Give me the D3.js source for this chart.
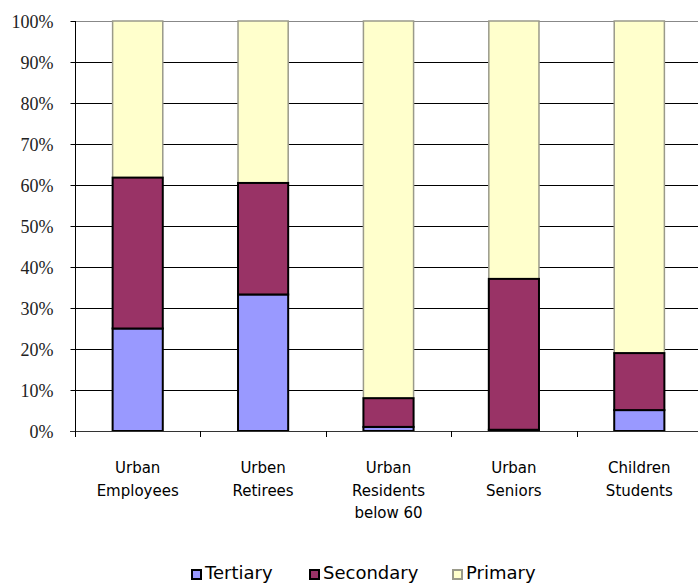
<!DOCTYPE html>
<html><head><meta charset="utf-8">
<script src="https://cdn.jsdelivr.net/npm/d3@7"></script>
<style>
html,body{margin:0;padding:0;background:#fff;}
svg{display:block;}
</style></head>
<body>
<svg id="chart" width="698" height="584"></svg>
<script>
const categories = [["Urban","Employees"],["Urben","Retirees"],["Urban","Residents","below 60"],["Urban","Seniors"],["Children","Students"]];
const seriesNames = ["Tertiary","Secondary","Primary"];
const tertiary  = [0.250, 0.333, 0.010, 0.003, 0.051];
const secondary = [0.368, 0.272, 0.070, 0.368, 0.139];
const primary   = [0.382, 0.395, 0.920, 0.629, 0.810];
const yTicks = [0,0.1,0.2,0.3,0.4,0.5,0.6,0.7,0.8,0.9,1.0];
const colors = ["#9999FF","#993366","#FFFFCC"];
const strokes = ["#000","#000","#9a9a8a"];

const svg = d3.select("#chart");
const keys = categories.map((c,i)=>"c"+i);
const x = d3.scaleBand().domain(keys).range([75,702]).paddingInner(0.6).paddingOuter(0.3);
const y = d3.scaleLinear().domain([0,1]).range([431,21]);

// gridlines
svg.append("g").selectAll("line").data(yTicks.filter(t=>t>0)).join("line")
  .attr("x1",75).attr("x2",698)
  .attr("y1",d=>Math.round(y(d))+0.5).attr("y2",d=>Math.round(y(d))+0.5)
  .attr("stroke",d=>d===1?"#888":"#000").attr("stroke-width",1);

const rows = keys.map((k,i)=>({key:k, Tertiary:tertiary[i], Secondary:secondary[i], Primary:primary[i]}));
const stack = d3.stack().keys(seriesNames)(rows);

const order = [2,0,1];
order.forEach(si=>{
  const s = stack[si];
  svg.append("g").selectAll("rect").data(s).join("rect")
    .attr("x",d=>x(d.data.key))
    .attr("width",x.bandwidth())
    .attr("y",d=>y(d[1]))
    .attr("height",d=>Math.max(0,y(d[0])-y(d[1])))
    .attr("fill",colors[si])
    .attr("stroke",strokes[si])
    .attr("stroke-width",si===2?1.5:2);
});

// y axis
const yAxis = d3.axisLeft(y).tickValues(yTicks).tickFormat(d=>Math.round(d*100)+"%").tickSize(5).tickPadding(17);
const gy = svg.append("g").attr("transform","translate(75.5,0)").call(yAxis);
gy.attr("font-family","'Liberation Serif','DejaVu Serif',serif").attr("font-size",18);
gy.select(".domain").attr("stroke","#000").attr("d","M0,21V431");
gy.selectAll(".tick line").attr("stroke","#000");
gy.selectAll("text").attr("fill","#222").attr("dy","0.36em");

// x axis baseline & ticks
svg.append("line").attr("x1",70).attr("x2",698).attr("y1",431.5).attr("y2",431.5).attr("stroke","#333").attr("stroke-width",1.2);
const bounds = d3.range(0,6).map(i=>75+i*x.step());
svg.append("g").selectAll("line").data(bounds).join("line")
  .attr("x1",d=>Math.round(d)+0.5).attr("x2",d=>Math.round(d)+0.5)
  .attr("y1",431).attr("y2",437).attr("stroke","#000");

// category labels
const lab = svg.append("g").attr("font-family","'DejaVu Sans', Verdana, sans-serif").attr("font-size",15).attr("fill","#000").attr("text-anchor","middle");
categories.forEach((lines,i)=>{
  const t = lab.append("text").attr("x",x(keys[i])+x.bandwidth()/2).attr("y",473);
  lines.forEach((ln,j)=>t.append("tspan").attr("x",x(keys[i])+x.bandwidth()/2).attr("y",473+j*22.5).text(ln));
});

// legend
const legX = [191,309,452];
const lg = svg.append("g");
seriesNames.forEach((n,i)=>{
  lg.append("rect").attr("x",legX[i]+1).attr("y",570).attr("width",9).attr("height",9)
    .attr("fill",colors[i]).attr("stroke",i===2?"#9a9a8a":"#000").attr("stroke-width",2);
  lg.append("text").attr("x",legX[i]+14).attr("y",579).attr("font-family","'DejaVu Sans', Verdana, sans-serif")
    .attr("font-size",18).attr("fill","#000").text(n);
});
</script>
</body></html>
